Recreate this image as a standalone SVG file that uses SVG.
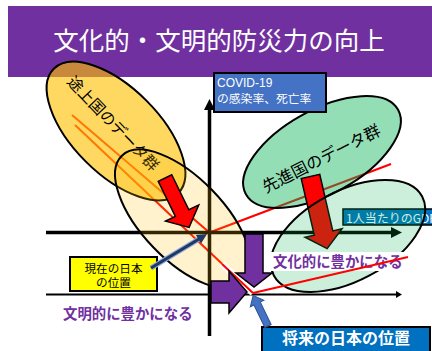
<svg xmlns="http://www.w3.org/2000/svg" width="432" height="351" viewBox="0 0 432 351">
<style>
.jp{font-family:"Noto Sans CJK JP","Noto Sans CJK SC",sans-serif}
.lat{font-family:"Liberation Sans","Noto Sans CJK JP",sans-serif}
.ell{stroke:#000;stroke-width:2}
.red{stroke:#FF0000;stroke-width:2;fill:none}
.ax{stroke:#000;fill:none}
.rarr{fill:#FF0000;stroke:#000;stroke-width:1.5;stroke-linejoin:miter}
.parr{fill:#7030A0;stroke:#000;stroke-width:1.5}
.lbl{font-weight:bold;fill:#7030A0;font-size:14.4px}
</style>
<rect id="title-band" x="8" y="6" width="424" height="71" fill="#7030A0"/>
<text class="jp" x="219" y="50" font-size="25.5" fill="#FFFFFF" text-anchor="middle">文化的・文明的防災力の向上</text>

<g id="data-lines">
<polyline class="red" points="72,115 209.5,232.5 391,164"/>
<line class="red" x1="75" y1="125" x2="253" y2="293"/>
</g>

<g id="axes">
<line class="ax" x1="209.5" y1="336" x2="209.5" y2="109" stroke-width="3.5"/>
<polygon points="209.5,99 215,110 204,110" fill="#000"/>
<line class="ax" x1="46" y1="232.5" x2="392" y2="232.5" stroke-width="3.5"/>
<polygon points="402,232.5 391,227 391,238" fill="#000"/>
<line class="ax" x1="46" y1="294.5" x2="397" y2="294.5" stroke-width="2"/>
<polygon points="402,294.5 396,291 396,298" fill="#000"/>
</g>

<g id="developing">
<ellipse class="ell" cx="0" cy="0" rx="88" ry="43" transform="translate(116,131) rotate(45)" fill="#FFC000" fill-opacity="0.62"/>
<text class="jp" transform="translate(114.2,122.5) rotate(46.3)" font-size="15.5" text-anchor="middle" dominant-baseline="central" fill="#000">途上国のデータ群</text>
</g>

<g id="japan-range">
<ellipse class="ell" cx="0" cy="0" rx="88" ry="41" transform="translate(183,219) rotate(46)" fill="#FFC000" fill-opacity="0.2"/>
</g>

<g id="developed">
<ellipse class="ell" cx="0" cy="0" rx="87" ry="42" transform="translate(322,152) rotate(-29)" fill="#00B050" fill-opacity="0.42"/>
<text class="jp" transform="translate(320.8,157.5) rotate(-26.9)" font-size="16.3" text-anchor="middle" dominant-baseline="central" fill="#000">先進国のデータ群</text>
</g>

<g id="red-arrow-1">
<polygon class="rarr" transform="translate(165,178) rotate(64)" points="0,-7.5 39,-7.5 39,-18.5 55,0 39,18.5 39,7.5 0,7.5"/>
</g>
<g id="red-arrow-2">
<polygon class="rarr" transform="translate(310.5,176.5) rotate(77)" points="0,-9.5 58,-9.5 58,-19 74,0 58,19 58,9.5 0,9.5"/>
</g>

<g id="gdp-label">
<rect x="343" y="209" width="95" height="16" fill="#0070C0" stroke="#000" stroke-width="1.5"/>
<text class="jp" x="346" y="222.5" font-size="12" fill="#FFFFFF">1人当たりのGDP</text>
</g>

<g id="future-range">
<ellipse class="ell" cx="0" cy="0" rx="84" ry="45" transform="translate(348,236) rotate(-28)" fill="#00B050" fill-opacity="0.2"/>
</g>

<g id="covid-label">
<rect x="214" y="73" width="112" height="39" fill="#4472C4" stroke="#000" stroke-width="2"/>
<text class="lat" x="217" y="86.5" font-size="12" fill="#FFFFFF">COVID-19</text>
<text class="jp" x="217" y="102.5" font-size="11.8" fill="#FFFFFF">の感染率、死亡率</text>
</g>

<line x1="222" y1="264" x2="253" y2="293" stroke="#FFFFFF" stroke-width="7"/>
<line class="red" x1="222" y1="264" x2="253" y2="293"/>

<g id="cultural-arrow">
<polygon class="parr" points="245,234 263,234 263,273 272,273 254,287 236,273 245,273"/>
</g>
<g id="civilization-arrow">
<polygon class="parr" points="211,281 229,281 229,271 247,292 229,313 229,303 211,303"/>
</g>

<g id="cultural-label">
<rect x="268" y="252" width="137" height="19" fill="#FFFFFF"/>
<text class="jp lbl" x="273" y="267">文化的に豊かになる</text>
</g>
<line class="red" x1="253" y1="293" x2="408" y2="257"/>

<g id="civilization-label">
<text class="jp lbl" x="63" y="319">文明的に豊かになる</text>
</g>

<g id="current-japan">
<rect x="70" y="257" width="87" height="34" fill="#FFFF00" stroke="#000" stroke-width="2"/>
<text class="jp" x="113.5" y="272.5" font-size="11.6" text-anchor="middle" fill="#000">現在の日本</text>
<text class="jp" x="113.5" y="287" font-size="11.6" text-anchor="middle" fill="#000">の位置</text>
</g>

<g id="future-japan">
<rect x="262" y="327" width="168" height="30" fill="#0070C0" stroke="#000" stroke-width="2"/>
<text class="jp" x="346" y="344" font-size="16" font-weight="bold" text-anchor="middle" fill="#FFFFFF">将来の日本の位置</text>
</g>

<g id="connectors">
<line x1="151" y1="268" x2="199" y2="239" stroke="#8FAADC" stroke-width="5"/>
<line x1="151" y1="268" x2="199" y2="239" stroke="#1F3864" stroke-width="3"/>
<polygon points="207,234 201.05,243.5 195.85,234.9" fill="#1F3864"/>
<polygon transform="translate(268,326) rotate(-115.9)" points="0,-3.5 25,-3.5 25,-7.5 34,0 25,7.5 25,3.5 0,3.5" fill="#4472C4" stroke="#2F528F" stroke-width="1"/>
</g>
</svg>
